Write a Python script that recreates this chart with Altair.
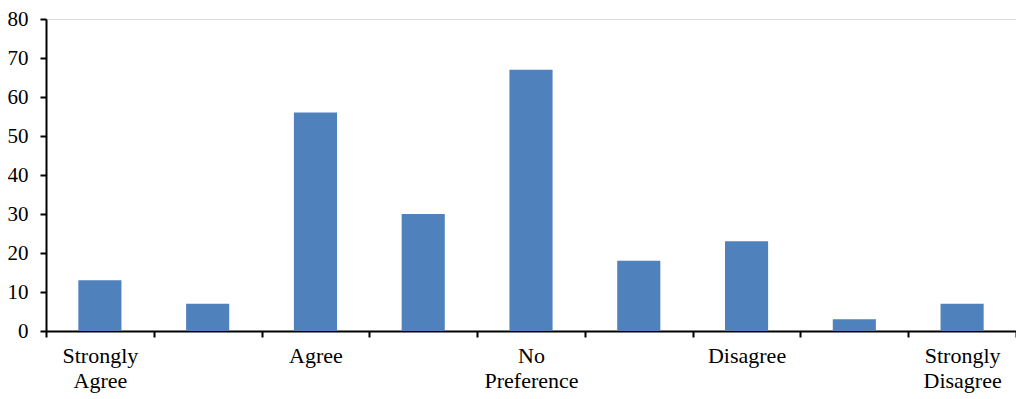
import altair as alt
import pandas as pd

categories = list(range(9))
values = [13, 7, 56, 30, 67, 18, 23, 3, 7]
tick_labels = [["Strongly", "Agree"], [""], ["Agree"], [""], ["No", "Preference"],
               [""], ["Disagree"], [""], ["Strongly", "Disagree"]]
y_ticks = [0, 10, 20, 30, 40, 50, 60, 70, 80]

df = pd.DataFrame({"idx": categories, "value": values})

label_arr = "[" + ",".join(
    "[" + ",".join("'" + s + "'" for s in lab) + "]" for lab in tick_labels
) + "]"

font = "Liberation Serif"

chart = alt.Chart(df).mark_bar(
    color="#4F81BD", width=alt.RelativeBandSize(0.4)
).encode(
    x=alt.X("idx:O", title=None,
            scale=alt.Scale(paddingInner=0, paddingOuter=0),
            axis=alt.Axis(labelAngle=0, tickBand="extent", tickSize=6,
                          tickWidth=2, tickColor="black", domainColor="black",
                          domainWidth=2, labelFont=font, labelFontSize=22,
                          labelColor="black", labelPadding=8,
                          labelLineHeight=25,
                          labelExpr=label_arr + "[datum.value]")),
    y=alt.Y("value:Q", title=None,
            scale=alt.Scale(domain=[0, 80], nice=False),
            axis=alt.Axis(values=y_ticks, grid=False, tickSize=6, tickWidth=2,
                          tickColor="black", domainColor="black", domainWidth=2,
                          labelFont=font, labelFontSize=21, labelColor="black",
                          labelPadding=12)),
).properties(
    width=970, height=312,
    autosize=alt.AutoSizeParams(type="none"),
    padding={"left": 38, "top": 11, "right": 0, "bottom": 66},
).configure_view(
    stroke="black", strokeWidth=2
).configure(font=font)

chart.save("out.html", embed_options={"renderer": "svg", "actions": False})
